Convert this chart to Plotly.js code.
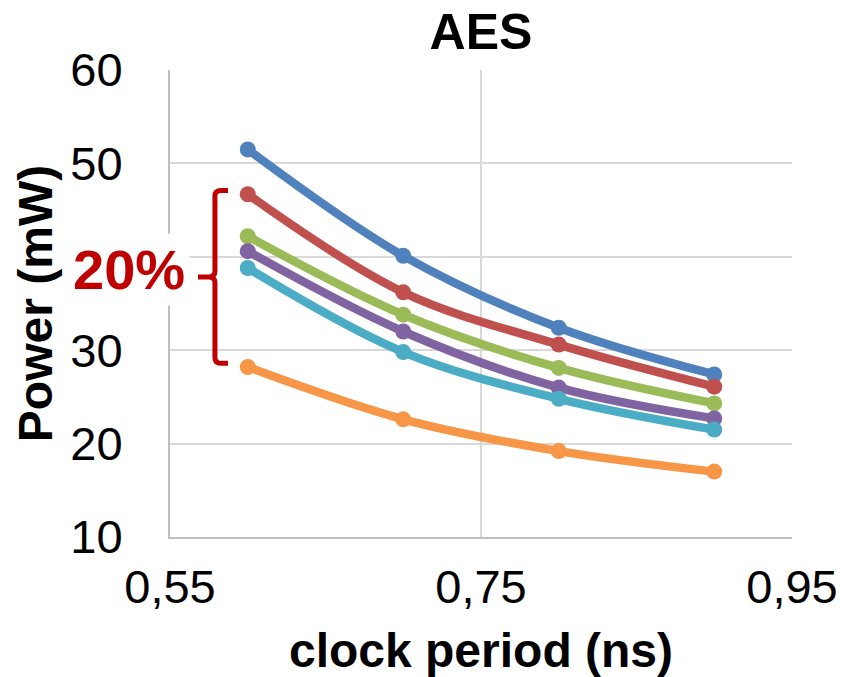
<!DOCTYPE html>
<html>
<head>
<meta charset="utf-8">
<script src="https://cdn.plot.ly/plotly-3.0.1.min.js"></script>
<style>
  html, body { margin: 0; padding: 0; background: #ffffff; }
  #chart { width: 846px; height: 677px; }
</style>
</head>
<body>
<div id="chart"></div>
<script>
// Clock period (ns) for each synthesis run
const clockPeriod = [0.6, 0.7, 0.8, 0.9];

// Power (mW) per configuration
const seriesBlue   = [51.5, 40.1, 32.4, 27.4];
const seriesRed    = [46.7, 36.2, 30.6, 26.1];
const seriesGreen  = [42.2, 33.8, 28.1, 24.3];
const seriesPurple = [40.6, 32.0, 26.0, 22.7];
const seriesCyan   = [38.8, 29.8, 24.8, 21.5];
const seriesOrange = [28.2, 22.6, 19.2, 17.0];

const seriesColors = ['#4F81BD', '#C0504D', '#9BBB59', '#8064A2', '#4BACC6', '#F79646'];
const allSeries = [seriesBlue, seriesRed, seriesGreen, seriesPurple, seriesCyan, seriesOrange];

const traces = allSeries.map((vals, i) => ({
  x: clockPeriod,
  y: vals,
  type: 'scatter',
  mode: 'lines+markers',
  line: { color: seriesColors[i], width: 8.5, shape: 'spline', smoothing: 1 },
  marker: { color: seriesColors[i], size: 16 },
  showlegend: false,
  hoverinfo: 'x+y'
}));

// Bracket spanning the spread between the red and orange runs at the first clock period
const bTop = seriesRed[0] + 0.4;
const bBot = seriesOrange[0] + 0.4;
const bMid = (bTop + bBot) / 2;
const bx = clockPeriod[0] - 0.0211;   // vertical stroke
const bxR = clockPeriod[0] - 0.0127;  // end of the top/bottom serifs
const bxL = clockPeriod[0] - 0.032;   // end of the middle tick
const r = 0.004, ry = 0.6;
const bracketPath =
  `M ${bxR},${bTop} L ${bx + r},${bTop} Q ${bx},${bTop} ${bx},${bTop - ry} ` +
  `L ${bx},${bMid + ry} Q ${bx},${bMid} ${bx - r},${bMid} L ${bxL},${bMid} ` +
  `M ${bx - r},${bMid} Q ${bx},${bMid} ${bx},${bMid - ry} ` +
  `L ${bx},${bBot + ry} Q ${bx},${bBot} ${bx + r},${bBot} L ${bxR},${bBot}`;

const fontFamily = 'Liberation Sans, Arial, sans-serif';

const layout = {
  width: 846,
  height: 677,
  paper_bgcolor: '#ffffff',
  plot_bgcolor: '#ffffff',
  separators: ',.',
  margin: { l: 170, r: 54, t: 70, b: 140 },
  font: { family: fontFamily, color: '#000000', size: 47 },
  title: {
    text: '<b>AES</b>',
    font: { family: fontFamily, size: 50, color: '#000000' },
    x: 0.5, xref: 'paper', xanchor: 'center',
    y: 1, yref: 'paper', yanchor: 'bottom',
    pad: { b: 21 }
  },
  xaxis: {
    range: [0.55, 0.95],
    tick0: 0.55,
    dtick: 0.2,
    tickformat: '.2f',
    showgrid: true,
    gridcolor: '#d9d9d9',
    gridwidth: 2,
    showline: true,
    linecolor: '#bfbfbf',
    linewidth: 2,
    zeroline: false,
    ticks: '',
    ticklabelstandoff: 8,
    tickfont: { family: fontFamily, size: 47, color: '#000000' },
    title: {
      text: '<b>clock period (ns)</b>',
      font: { family: fontFamily, size: 48, color: '#000000' },
      standoff: 22
    },
    automargin: false
  },
  yaxis: {
    range: [10, 60],
    dtick: 10,
    showgrid: true,
    gridcolor: '#d9d9d9',
    gridwidth: 2,
    showline: true,
    linecolor: '#bfbfbf',
    linewidth: 2,
    zeroline: false,
    ticks: '',
    ticklabelstandoff: 36,
    tickfont: { family: fontFamily, size: 47, color: '#000000' },
    title: {
      text: '<b>Power (mW)</b>',
      font: { family: fontFamily, size: 48, color: '#000000' },
      standoff: 3
    },
    automargin: false
  },
  shapes: [{
    type: 'path',
    xref: 'x', yref: 'y',
    path: bracketPath,
    line: { color: '#C00000', width: 5 },
    layer: 'above'
  }],
  annotations: [{
    text: '<b>20%</b>',
    xref: 'paper', yref: 'paper',
    x: -0.066, y: 0.572,
    xanchor: 'center', yanchor: 'middle',
    showarrow: false,
    bgcolor: '#ffffff',
    borderpad: 4,
    font: { family: fontFamily, size: 56, color: '#C00000' }
  }]
};

Plotly.newPlot('chart', traces, layout, { displayModeBar: false, staticPlot: true });
</script>
</body>
</html>
